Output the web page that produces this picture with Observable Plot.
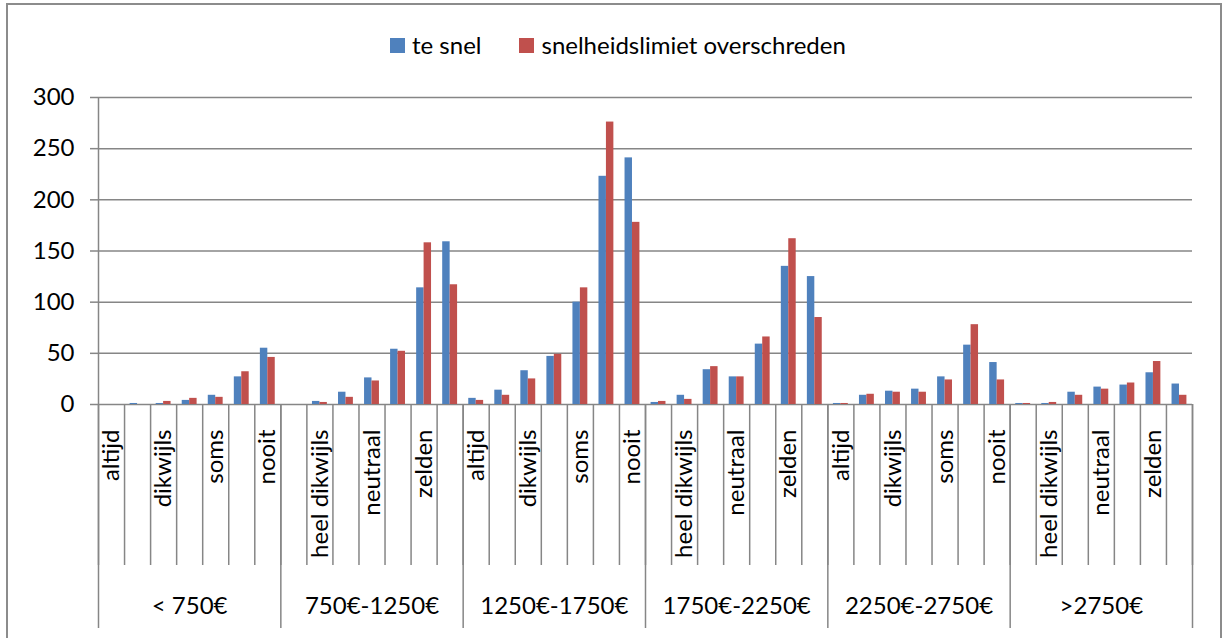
<!DOCTYPE html>
<html>
<head>
<meta charset="utf-8">
<script src="https://cdn.jsdelivr.net/npm/d3@7"></script>
<script src="https://cdn.jsdelivr.net/npm/@observablehq/plot@0.6"></script>
<style>
  body { margin: 0; background: #fff; font-family: Lato, "Open Sans", sans-serif; }
  #chart { position: relative; width: 1223px; height: 638px; overflow: hidden; background: #fff; }
  #frame { position: absolute; left: 6px; top: 3px; width: 1216px; height: 700px;
           border: 2px solid #8c8c8c; box-sizing: border-box; }
  #legend { position: absolute; top: 31px; left: 390px; display: flex; align-items: center;
            font-size: 24px; line-height: 28px; color: #000; white-space: nowrap; }
  #legend .sw { width: 15px; height: 15px; display: inline-block; margin-right: 7px; }
  #legend .item { display: flex; align-items: center; }
  #plot { position: absolute; left: 0; top: 70px; }
</style>
</head>
<body>
<div id="chart">
  <div id="frame"></div>
  <div id="legend"></div>
  <div id="plot"></div>
</div>
<script>
// Income groups and the answer categories within each group
const groups = ["< 750€", "750€-1250€", "1250€-1750€", "1750€-2250€", "2250€-2750€", ">2750€"];
const answers = ["altijd", "heel dikwijls", "dikwijls", "neutraal", "soms", "zelden", "nooit"];
const seriesNames = ["te snel", "snelheidslimiet overschreden"];
const seriesColors = ["#4F81BD", "#C0504D"];

// Counts per group, in answer order (7 per group)
const teSnel = [
  0, 1, 1, 4, 9, 27, 55,
  0, 3, 12, 26, 54, 114, 159,
  6, 14, 33, 47, 100, 223, 241,
  2, 9, 34, 27, 59, 135, 125,
  1, 9, 13, 15, 27, 58, 41,
  1, 1, 12, 17, 19, 31, 20
];
const overschreden = [
  0, 0, 3, 6, 7, 32, 46,
  0, 2, 7, 23, 52, 158, 117,
  4, 9, 25, 49, 114, 276, 178,
  3, 5, 37, 27, 66, 162, 85,
  1, 10, 12, 12, 24, 78, 24,
  1, 2, 9, 15, 21, 42, 9
];
const yTicks = [0, 50, 100, 150, 200, 250, 300];

const nCat = groups.length * answers.length;
const barW = 1 / 3.5; // clustered bars with a 150% gap width
const axisGray = "#868686";
const fs = 24;

const rows = [];
[teSnel, overschreden].forEach((vals, s) => {
  vals.forEach((v, i) => rows.push({ i, s, series: seriesNames[s], value: v }));
});

// every other category label is shown along the axis
const catLabels = d3.range(0, nCat, 2).map(i => ({ pos: i + 0.5, label: answers[i % answers.length] }));
const groupLabels = groups.map((g, k) => ({ pos: k * answers.length + answers.length / 2, name: g }));

// legend
const legend = document.getElementById("legend");
seriesNames.forEach((name, k) => {
  const item = document.createElement("span");
  item.className = "item";
  item.style.marginRight = k === 0 ? "38px" : "0";
  item.innerHTML = `<span class="sw" style="background:${seriesColors[k]}"></span><span>${name}</span>`;
  legend.appendChild(item);
});

const chart = Plot.plot({
  width: 1223,
  height: 568,
  marginTop: 27,
  marginBottom: 234,
  marginLeft: 98,
  marginRight: 31,
  style: { fontFamily: "Lato, 'Open Sans', sans-serif", fontSize: fs + "px", color: "#000", background: "transparent" },
  x: { domain: [0, nCat], axis: null },
  y: { domain: [0, 300], axis: null },
  color: { domain: seriesNames, range: seriesColors },
  marks: [
    Plot.gridY(yTicks, { stroke: axisGray, strokeOpacity: 1, strokeWidth: 1.5 }),
    Plot.axisY({ ticks: yTicks, tickSize: 8, tickPadding: 16, stroke: axisGray, strokeWidth: 1.5, label: null, fontSize: fs }),
    Plot.ruleX([0], { stroke: axisGray, strokeWidth: 1.5 }),
    // category separators
    Plot.axisX({ ticks: d3.range(0, nCat + 1), tickSize: 161, tickFormat: () => "", stroke: axisGray, strokeWidth: 1.5, label: null }),
    // group separators
    Plot.axisX({ ticks: d3.range(0, nCat + 1, answers.length), tickSize: 224, tickFormat: () => "", stroke: axisGray, strokeWidth: 1.5, label: null }),
    Plot.rectY(rows.filter(d => d.value > 0), {
      x1: d => d.i + 0.5 + (d.s - 1) * barW,
      x2: d => d.i + 0.5 + d.s * barW,
      y1: 0,
      y2: "value",
      fill: "series"
    }),
    Plot.text(catLabels, {
      x: "pos", text: "label", frameAnchor: "bottom", dy: 25,
      rotate: -90, textAnchor: "end", lineAnchor: "middle", fontSize: fs, fill: "#000"
    }),
    Plot.text(groupLabels, {
      x: "pos", text: "name", frameAnchor: "bottom", dy: 202,
      lineAnchor: "middle", fontSize: fs, fill: "#000"
    })
  ]
});
document.getElementById("plot").appendChild(chart);
</script>
</body>
</html>
